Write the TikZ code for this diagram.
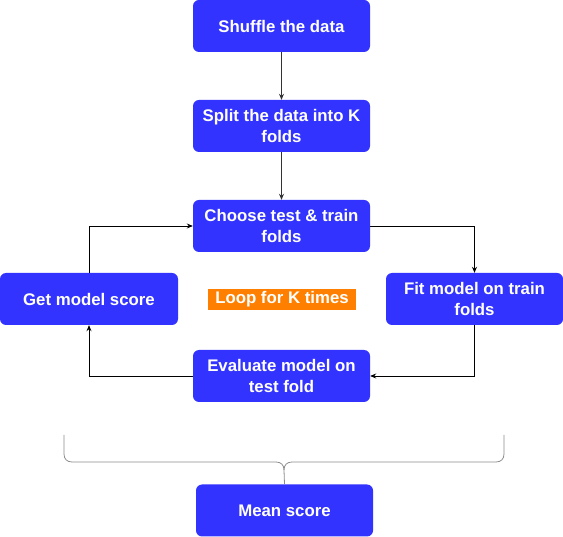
\documentclass[tikz,border=0pt]{standalone}
\usepackage{fontspec}
\setmainfont{Liberation Sans}
\usetikzlibrary{arrows.meta}
\definecolor{boxblue}{HTML}{3333FF}
\definecolor{looporange}{HTML}{FF8000}
\definecolor{linegray}{HTML}{333333}
\definecolor{bracegray}{HTML}{8C8C8C}
\begin{document}
\begin{tikzpicture}[x=1pt,y=-1pt,
  stepbox/.style={draw=none,fill=boxblue,rounded corners=6pt,minimum width=177pt,minimum height=52pt,
    text=white,font=\fontsize{16.8}{20.5}\selectfont\bfseries,align=center,inner sep=0pt},
  flow/.style={draw=black,line width=0.8pt,-{Stealth[length=6pt,width=5pt]}},
  looplabel/.style={fill=looporange,text=white,font=\fontsize{16.8}{20.5}\selectfont\bfseries,minimum width=148pt,minimum height=21pt,inner sep=0pt}]
\useasboundingbox (0,0) rectangle (563,537);
\node[stepbox] (shuffle) at (281.5,26) {Shuffle the data};
\node[stepbox] (split) at (281.5,126) {Split the data into K\\folds};
\node[stepbox] (choose) at (281.5,226) {Choose test \& train\\folds};
\node[stepbox,minimum width=178pt] (get) at (89,299) {Get model score};
\node[stepbox] (fit) at (474.5,299) {Fit model on train\\folds};
\node[stepbox] (eval) at (281.5,376) {Evaluate model on\\test fold};
\node[looplabel] (loop) at (282,299.5) {Loop for K times};
\node[stepbox] (mean) at (284.5,510.5) {Mean score};
\draw[flow,draw=linegray] (shuffle) -- (split);
\draw[flow,draw=linegray] (split) -- (choose);
\draw[flow] (choose.east) -| (fit.north);
\draw[flow] (fit.south) |- (eval.east);
\draw[flow] (eval.west) -| (get.south);
\draw[flow] (get.north) |- (choose.west);
\coordinate (bl) at (64,435);
\coordinate (br) at (504,435);
\draw[bracegray,line width=0.8pt] (bl) -- (64,454) .. controls (64,459) and (67,462) .. (72,462) -- (276,462)
  .. controls (281,462) and (284,465) .. (284,470) -- (mean.north);
\draw[bracegray,line width=0.8pt] (br) -- (504,454) .. controls (504,459) and (501,462) .. (496,462) -- (292,462)
  .. controls (287,462) and (284,465) .. (284,470);
\end{tikzpicture}
\end{document}
